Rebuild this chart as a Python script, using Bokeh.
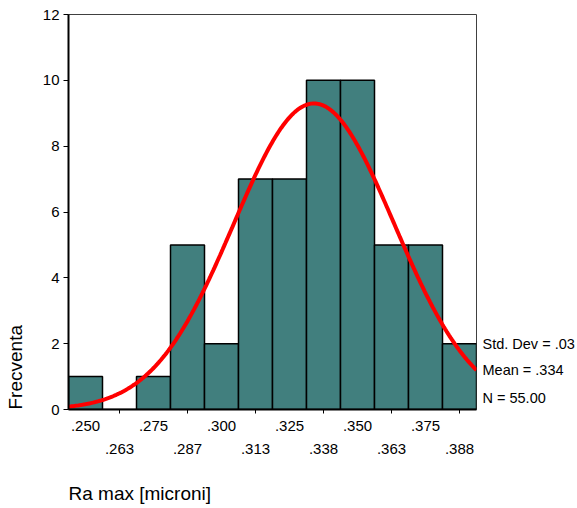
import numpy as np
from bokeh.plotting import figure
from bokeh.models import ColumnDataSource, FixedTicker, Range1d, LinearAxis, Title
from bokeh.embed import file_html
from bokeh.resources import INLINE

# Histogram of Ra max: bin centres, printed tick labels and frequencies
bin_centers = [0.250, 0.2625, 0.275, 0.2875, 0.300, 0.3125,
               0.325, 0.3375, 0.350, 0.3625, 0.375, 0.3875]
tick_labels = [".250", ".263", ".275", ".287", ".300", ".313",
               ".325", ".338", ".350", ".363", ".375", ".388"]
counts = [1, 0, 1, 5, 2, 7, 7, 10, 10, 5, 5, 2]
y_ticks = [0, 2, 4, 6, 8, 10, 12]

bin_width = 0.0125
n_total = 55
mean = 0.334
std_dev = 0.0295
stats_lines = ["Std. Dev = .03", "Mean = .334", "N = 55.00"]

FONT = "Liberation Sans"
BAR_COLOR = "#417F7E"

x_start = bin_centers[0] - bin_width / 2
x_end = bin_centers[-1] + bin_width / 2

p = figure(width=577, height=508, output_backend="svg", toolbar_location=None,
           x_range=Range1d(x_start, x_end), y_range=Range1d(0, 12),
           min_border_left=68, min_border_right=100,
           min_border_top=14, min_border_bottom=99)
p.background_fill_color = "white"
p.border_fill_color = "white"
p.outline_line_color = "#404040"
p.outline_line_width = 1
p.xgrid.visible = False
p.ygrid.visible = False

# bars
centers = np.array(bin_centers)
bars = ColumnDataSource(dict(left=centers - bin_width / 2,
                             right=centers + bin_width / 2,
                             top=counts))
p.quad(left="left", right="right", bottom=0, top="top", source=bars,
       fill_color=BAR_COLOR, line_color="black", line_width=1.5)

# fitted normal curve, scaled to frequency
xs = np.linspace(x_start, x_end, 300)
ys = n_total * bin_width / (std_dev * np.sqrt(2 * np.pi)) * \
    np.exp(-0.5 * ((xs - mean) / std_dev) ** 2)
p.line(xs, ys, line_color="#FF0000", line_width=4)

# y axis
ya = p.yaxis[0]
ya.ticker = FixedTicker(ticks=y_ticks)
ya.minor_tick_line_color = None
ya.major_tick_in = 0
ya.major_tick_out = 5
ya.major_label_standoff = 4
ya.axis_line_width = 2
ya.major_label_text_font = FONT
ya.major_label_text_font_size = "15px"
ya.major_label_text_color = "black"

# x axis, first row: labels at every other bin, small marks at the others
upper = bin_centers[0::2]
lower = bin_centers[1::2]
xa = p.xaxis[0]
xa.ticker = FixedTicker(ticks=upper, minor_ticks=lower)
xa.major_label_overrides = {c: t for c, t in zip(upper, tick_labels[0::2])}
xa.major_tick_in = 0
xa.major_tick_out = 0
xa.minor_tick_in = 0
xa.minor_tick_out = 4
xa.minor_tick_line_color = "black"
xa.axis_line_width = 2
xa.major_label_standoff = 7
xa.major_label_text_font = FONT
xa.major_label_text_font_size = "15px"
xa.major_label_text_color = "black"

# x axis, second row of labels
xb = LinearAxis(ticker=FixedTicker(ticks=lower),
                major_label_overrides={c: t for c, t in zip(lower, tick_labels[1::2])},
                axis_line_color=None, major_tick_line_color=None,
                minor_tick_line_color=None, major_tick_in=0, major_tick_out=0,
                major_label_standoff=10, major_label_text_font=FONT,
                major_label_text_font_size="15px", major_label_text_color="black")
p.add_layout(xb, "below")

# summary statistics on the right
stat_y = [2.0, 1.2, 0.35]
stats_axis = LinearAxis(ticker=FixedTicker(ticks=stat_y),
                        major_label_overrides={y: s for y, s in zip(stat_y, stats_lines)},
                        axis_line_color=None, major_tick_line_color=None,
                        minor_tick_line_color=None, major_tick_in=0,
                        major_tick_out=0, major_label_standoff=6,
                        major_label_text_font=FONT,
                        major_label_text_font_size="14.5px",
                        major_label_text_color="black")
p.add_layout(stats_axis, "right")

# axis titles, aligned to the start of each axis
p.add_layout(Title(text="Ra max [microni]", align="left", standoff=0,
                   padding=dict(left=0, right=0, top=24, bottom=0),
                   text_font=FONT, text_font_size="19px",
                   text_font_style="normal", text_color="black"), "below")
p.add_layout(Title(text="Frecventa", align="left", standoff=0,
                   padding=dict(left=0, right=0, top=0, bottom=14),
                   text_font=FONT, text_font_size="19px",
                   text_font_style="normal", text_color="black"), "left")

open("out.html", "w").write(file_html(p, INLINE))
